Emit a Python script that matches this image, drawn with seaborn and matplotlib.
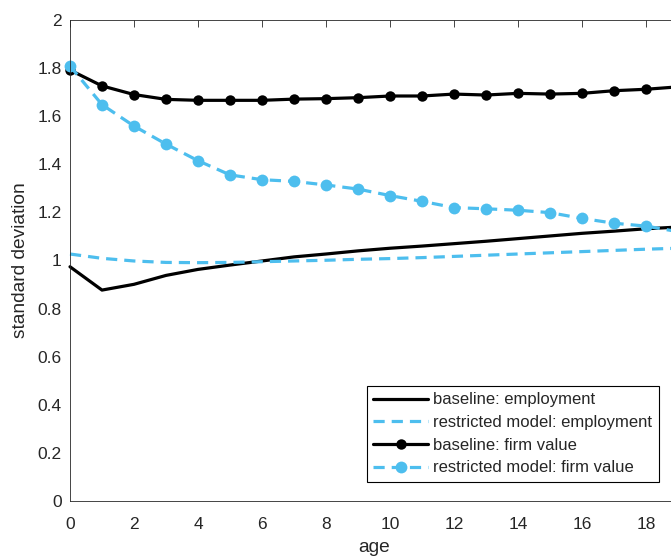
import matplotlib
matplotlib.use("Agg")
import matplotlib.pyplot as plt
import seaborn as sns
import pandas as pd

sns.set_theme(style="white")
plt.rcParams['font.family'] = ['Liberation Sans', 'DejaVu Sans']

age = list(range(20))

baseline_employment = [0.974, 0.877, 0.901, 0.938, 0.963, 0.981, 0.998, 1.015, 1.027, 1.040,
                       1.051, 1.060, 1.070, 1.080, 1.091, 1.102, 1.113, 1.122, 1.132, 1.139]
restricted_employment = [1.027, 1.009, 0.998, 0.992, 0.991, 0.992, 0.995, 0.998, 1.001, 1.005,
                         1.008, 1.012, 1.017, 1.022, 1.027, 1.032, 1.037, 1.042, 1.047, 1.051]
baseline_firm_value = [1.792, 1.726, 1.690, 1.670, 1.666, 1.666, 1.666, 1.671, 1.673, 1.677,
                       1.684, 1.684, 1.692, 1.688, 1.695, 1.692, 1.695, 1.706, 1.712, 1.722]
restricted_firm_value = [1.809, 1.648, 1.559, 1.484, 1.415, 1.356, 1.336, 1.329, 1.314, 1.297,
                         1.270, 1.246, 1.220, 1.215, 1.209, 1.199, 1.175, 1.155, 1.143, 1.120]

labels = ["baseline: employment", "restricted model: employment",
          "baseline: firm value", "restricted model: firm value"]

BLUE = "#4DBEEE"
DARK = "#262626"

W, H = 671, 557
fig = plt.figure(figsize=(W / 100, H / 100), dpi=100)
# axes box in pixels: left 70, right 678 (just past the canvas), top 20, bottom 501
ax = fig.add_axes([70 / W, 56 / H, 608 / W, 481 / H])

df = pd.DataFrame({"age": age,
                   labels[0]: baseline_employment,
                   labels[1]: restricted_employment,
                   labels[2]: baseline_firm_value,
                   labels[3]: restricted_firm_value})

dash = (3.5, 2.2)
styles = [
    dict(color="black", linestyle="-", marker=None),
    dict(color=BLUE, dashes=dash, marker=None),
    dict(color="black", linestyle="-", marker="o", markersize=7.5),
    dict(color=BLUE, dashes=dash, marker="o", markersize=8.5),
]

for lab, st in zip(labels, styles):
    sns.lineplot(data=df, x="age", y=lab, ax=ax, label=lab, linewidth=2.3,
                 markeredgewidth=0, clip_on=False, **st)

ax.set_xlim(0, 19)
ax.set_ylim(0, 2)
ax.set_xticks(range(0, 19, 2))
ax.set_yticks([0, 0.2, 0.4, 0.6, 0.8, 1, 1.2, 1.4, 1.6, 1.8, 2])
ax.set_yticklabels(["0", "0.2", "0.4", "0.6", "0.8", "1", "1.2", "1.4", "1.6", "1.8", "2"])

ax.tick_params(axis="both", direction="in", length=5, width=0.6, color=DARK,
               labelsize=12.5, labelcolor=DARK, top=True, right=True)
ax.tick_params(axis="y", pad=6)
ax.tick_params(axis="x", pad=11.5)
for sp in ax.spines.values():
    sp.set_color(DARK)
    sp.set_linewidth(0.6)
    sp.set_visible(True)

ax.set_xlabel("age", fontsize=13.8, color=DARK, labelpad=5)
ax.set_ylabel("standard deviation", fontsize=13.8, color=DARK, labelpad=6)

leg = ax.legend(loc="lower right", bbox_to_anchor=(659 / W, (H - 482) / H),
                bbox_transform=fig.transFigure, fontsize=12, frameon=True,
                fancybox=False, edgecolor="black", framealpha=1,
                handlelength=3.3, handletextpad=0.3, labelspacing=0.46,
                borderpad=0.4, borderaxespad=0)
leg.get_frame().set_linewidth(0.8)
for t in leg.get_texts():
    t.set_color(DARK)

fig.savefig("out.png", dpi=100)
